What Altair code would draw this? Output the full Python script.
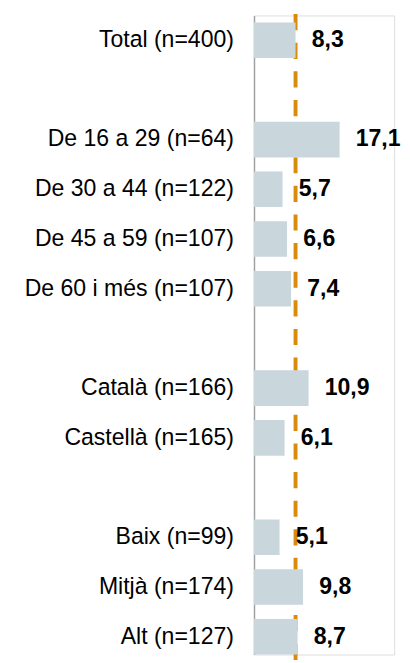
import altair as alt
import pandas as pd

# --- data -------------------------------------------------------------
categories = [
    "Total (n=400)",
    "De 16 a 29 (n=64)",
    "De 30 a 44 (n=122)",
    "De 45 a 59 (n=107)",
    "De 60 i més (n=107)",
    "Català (n=166)",
    "Castellà (n=165)",
    "Baix (n=99)",
    "Mitjà (n=174)",
    "Alt (n=127)",
]
values = [8.3, 17.1, 5.7, 6.6, 7.4, 10.9, 6.1, 5.1, 9.8, 8.7]
value_labels = ["8,3", "17,1", "5,7", "6,6", "7,4", "10,9", "6,1", "5,1", "9,8", "8,7"]
# blank slots inserted before these categories (group separators)
gap_before = ["De 16 a 29 (n=64)", "Català (n=166)", "Baix (n=99)"]
reference_value = [8.3]  # Total, drawn as dashed line

# --- build order with empty slots -------------------------------------
domain = []
gap_count = 0
for c in categories:
    if c in gap_before:
        gap_count += 1
        domain.append(" " * gap_count)
    domain.append(c)

df = pd.DataFrame({"cat": categories, "value": values, "label": value_labels})
ref_df = pd.DataFrame({"v": reference_value})

FONT = "Liberation Sans"
FS = 23.5

y_enc = alt.Y(
    "cat:N",
    sort=domain,
    scale=alt.Scale(domain=domain, paddingInner=0.284, paddingOuter=0.0695, align=1),
    axis=alt.Axis(
        title=None,
        ticks=False,
        labelFontSize=FS,
        labelFont=FONT,
        labelColor="#000000",
        labelPadding=21,
        labelLimit=400,
        domainColor="#a0a0a0",
        domainWidth=1.5,
        grid=False,
    ),
)
x_scale = alt.Scale(domain=[0, 28], nice=False)

rule = alt.Chart(ref_df).mark_rule(
    color="#D98C0B", strokeWidth=4, strokeDash=[16.5, 12.7]
).encode(
    x=alt.X("v:Q", scale=x_scale, axis=None),
    y=alt.value(-1.4),
    y2=alt.value(670),
)

bars = alt.Chart(df).mark_bar(color="#C9D6DC").encode(
    x=alt.X("value:Q", scale=x_scale, axis=None),
    y=y_enc,
)

text = alt.Chart(df).mark_text(
    align="left", baseline="middle", dx=16.5, fontSize=FS, fontWeight="bold",
    font=FONT, color="#000000",
).encode(
    x=alt.X("value:Q", scale=x_scale, axis=None),
    y=y_enc,
    text="label:N",
)

chart = alt.layer(rule, bars, text).properties(
    width=143,
    height=652,
    padding={"left": 251, "top": 1, "right": 8, "bottom": 0},
    autosize=alt.AutoSizeParams(type="none"),
).configure_view(stroke=None).configure(font=FONT)

chart.save("out.html", embed_options={"renderer": "svg", "actions": False})
